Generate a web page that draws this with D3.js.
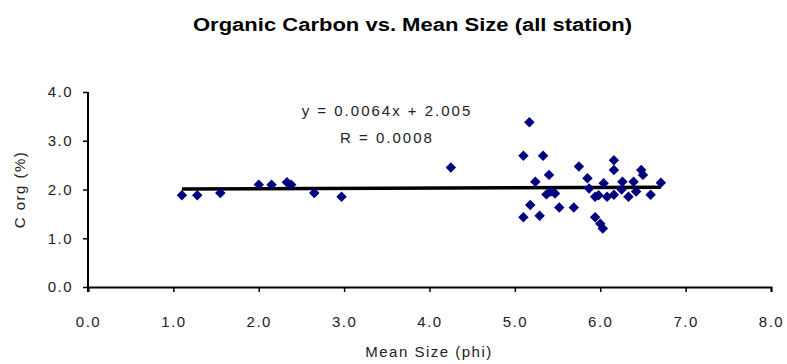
<!DOCTYPE html>
<html>
<head>
<meta charset="utf-8">
<script src="https://cdn.jsdelivr.net/npm/d3@7"></script>
<style>
  body { margin: 0; background: #fff; }
  svg text { font-family: "Liberation Sans", Arial, sans-serif; }
</style>
</head>
<body>
<svg id="chart" width="787" height="364"></svg>
<script>
"use strict";
// mean size (phi) and organic carbon (%) per station
const meanSize = [1.1, 1.28, 1.55, 2.0, 2.15, 2.33, 2.38, 2.65, 2.97, 4.25,
  5.17, 5.10, 5.33, 5.40, 5.24, 5.42, 5.47, 5.37, 5.18, 5.10, 5.29, 5.52, 5.69,
  5.75, 5.85, 5.87, 5.94, 6.04, 5.94, 6.03, 6.00, 6.16, 6.16, 6.16, 6.26, 6.25,
  6.39, 6.42, 6.48, 6.50, 6.59, 6.71, 6.08, 5.98, 6.33];
const cOrg = [1.88, 1.88, 1.93, 2.1, 2.1, 2.15, 2.1, 1.93, 1.85, 2.45,
  3.38, 2.69, 2.69, 2.30, 2.16, 1.96, 1.92, 1.90, 1.68, 1.43, 1.46, 1.63, 1.63,
  2.47, 2.23, 2.02, 1.85, 2.13, 1.43, 1.20, 1.30, 2.60, 2.40, 1.89, 2.16, 2.00,
  2.16, 1.96, 2.40, 2.30, 1.89, 2.14, 1.85, 1.88, 1.85];
const xTicks = [0, 1, 2, 3, 4, 5, 6, 7, 8];
const yTicks = [0, 1, 2, 3, 4];
const slope = 0.0064, intercept = 2.005;
const eqLines = ["y = 0.0064x + 2.005", "R = 0.0008"];

const svg = d3.select("#chart");
const x = d3.scaleLinear().domain([0, 8]).range([88, 771]);
const y = d3.scaleLinear().domain([0, 4]).range([287, 92]);

svg.append("text").attr("x", 193).attr("y", 31)
  .attr("font-size", 18).attr("font-weight", "bold")
  .attr("textLength", 439).attr("lengthAdjust", "spacingAndGlyphs")
  .text("Organic Carbon vs. Mean Size (all station)");

const xAxis = svg.append("g").attr("transform", `translate(0,${y(0)})`)
  .call(d3.axisBottom(x).tickValues(xTicks).tickFormat(d3.format(".1f")).tickSizeOuter(0).tickSize(5).tickPadding(24));
const yAxis = svg.append("g").attr("transform", `translate(${x(0)},0)`)
  .call(d3.axisLeft(y).tickValues(yTicks).tickFormat(d3.format(".1f")).tickSizeOuter(0).tickSize(5).tickPadding(10));

[xAxis, yAxis].forEach(g => {
  g.select(".domain").attr("stroke", "#000").attr("stroke-width", 2);
  g.selectAll(".tick line").attr("stroke", "#000").attr("stroke-width", 1.5);
  g.selectAll(".tick text").attr("font-size", 15).attr("fill", "#222")
    .attr("letter-spacing", 1.5).attr("font-family", "Liberation Sans, Arial, sans-serif");
});
// y axis runs a bit below the x axis
yAxis.select(".domain").attr("d", `M0,${y(4)}V${y(0) + 5}`);

svg.append("text").attr("transform", `translate(25,${y(2)}) rotate(-90)`)
  .attr("text-anchor", "middle").attr("font-size", 15).attr("letter-spacing", 1.5)
  .attr("fill", "#222").text("C org (%)");
svg.append("text").attr("x", 429).attr("y", 357).attr("text-anchor", "middle")
  .attr("font-size", 15).attr("letter-spacing", 1.5).attr("fill", "#222").text("Mean Size (phi)");

const data = meanSize.map((d, i) => ({x: d, y: cOrg[i]}));
const ext = d3.extent(meanSize);
svg.append("line")
  .attr("x1", x(ext[0])).attr("x2", x(ext[1]))
  .attr("y1", y(intercept + slope * ext[0])).attr("y2", y(intercept + slope * ext[1]))
  .attr("stroke", "#000").attr("stroke-width", 3.5);

const diamond = d3.symbol().type(d3.symbolDiamond2).size(70);
svg.append("g").selectAll("path").data(data).join("path")
  .attr("transform", d => `translate(${x(d.x)},${y(d.y)})`)
  .attr("d", diamond).attr("fill", "#00007f");

svg.append("g").selectAll("text").data(eqLines).join("text")
  .attr("x", 387).attr("y", (d, i) => 116 + i * 27)
  .attr("text-anchor", "middle").attr("font-size", 15).attr("letter-spacing", 2)
  .attr("fill", "#222").text(d => d);
</script>
</body>
</html>
